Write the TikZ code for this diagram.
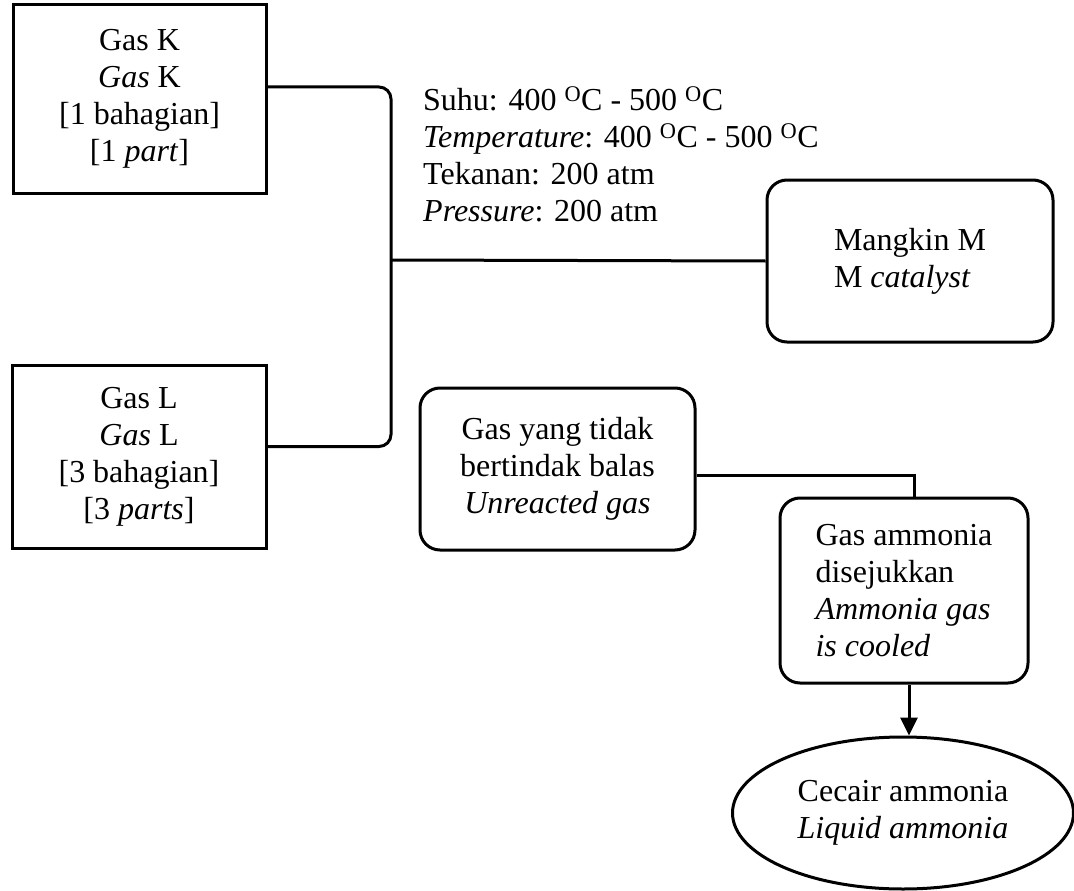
\documentclass[tikz,border=0pt]{standalone}
\usepackage{fontspec}
\setmainfont{Liberation Serif}
\usetikzlibrary{shapes.geometric,arrows.meta}
\begin{document}
\begin{tikzpicture}[x=1pt,y=-1pt,
  every node/.style={font=\fontsize{32}{37}\selectfont},
  sqbox/.style={draw,line width=3pt,align=center,inner sep=0pt},
  rbox/.style={draw,line width=3pt,rounded corners=20pt,inner sep=0pt},
  conn/.style={line width=3pt},
  arr/.style={line width=3pt,-{Triangle[length=18pt,width=17pt]}}]
\useasboundingbox (0,0) rectangle (1074,891);
\node[sqbox,minimum width=253pt,minimum height=188pt] (K) at (139.5,99)
  {Gas K\\\textit{Gas} K\\{[}1 bahagian{]}\\{[}1 \textit{part}{]}};
\node[sqbox,minimum width=254pt,minimum height=183pt] (L) at (139,456.5)
  {Gas L\\\textit{Gas} L\\{[}3 bahagian{]}\\{[}3 \textit{parts}{]}};
\node[align=left,anchor=west,inner sep=0pt] (C) at (423,154)
  {Suhu: 400 \textsuperscript{O}C - 500 \textsuperscript{O}C\\
   \textit{Temperature}: 400 \textsuperscript{O}C - 500 \textsuperscript{O}C\\
   Tekanan: 200 atm\\
   \textit{Pressure}: 200 atm};
\node[rbox,align=left,minimum width=286pt,minimum height=162pt] (M) at (910,261)
  {Mangkin M\\M \textit{catalyst}};
\node[rbox,align=center,minimum width=275pt,minimum height=162pt] (U) at (557.5,469)
  {Gas yang tidak\\bertindak balas\\\textit{Unreacted gas}};
\node[rbox,align=left,minimum width=248pt,minimum height=185pt] (A) at (904,590.5)
  {Gas ammonia\\disejukkan\\\textit{Ammonia gas}\\\textit{is cooled}};
\node[draw,ellipse,line width=3pt,align=center,inner sep=0pt,
  minimum width=341pt,minimum height=152pt] (E) at (903,813)
  {Cecair ammonia\\\textit{Liquid ammonia}};
\coordinate (J) at (391,260);
\draw[conn,rounded corners=12pt] ([yshift=12pt]K.east) -| (J) |- ([yshift=10pt]L.east);
\draw[conn] (J) -- (M.west);
\draw[conn] ([yshift=-6pt]U.east) -| ([xshift=10pt]A.north);
\draw[arr] ([xshift=5pt]A.south) -- ([xshift=5pt]A.south |- E.north);
\end{tikzpicture}
\end{document}
